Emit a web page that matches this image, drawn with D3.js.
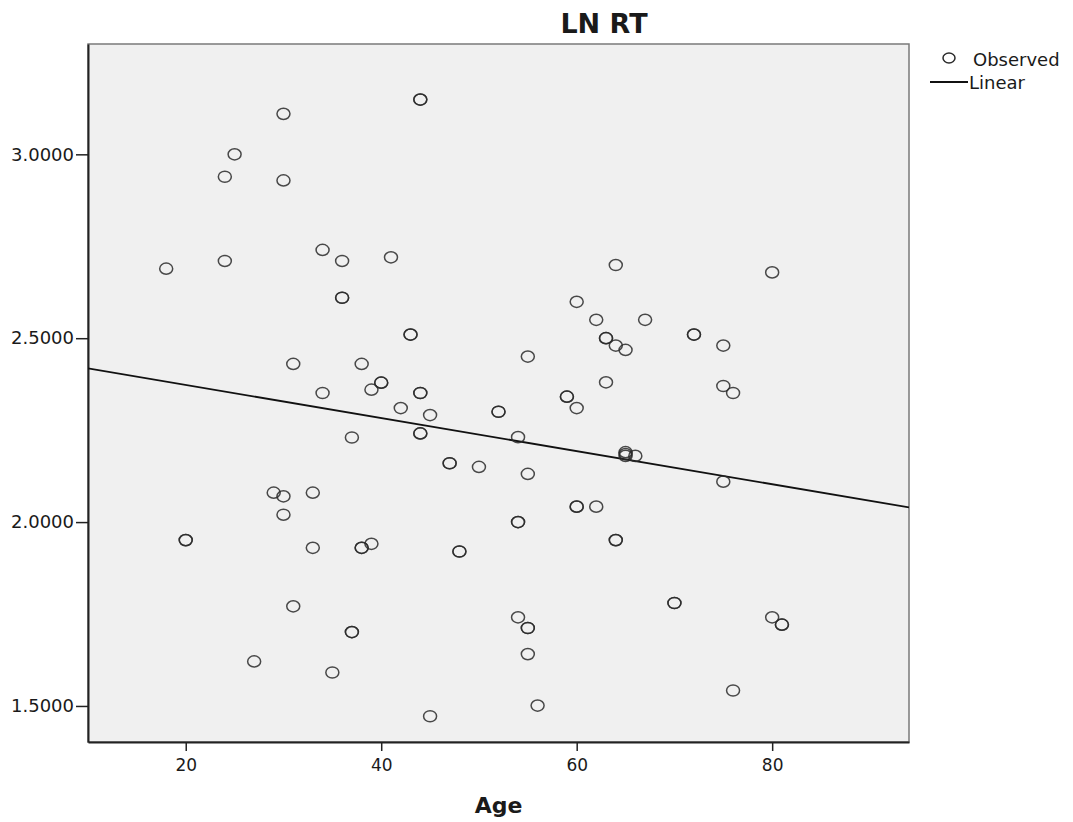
<!DOCTYPE html>
<html>
<head>
<meta charset="utf-8">
<script src="https://cdn.jsdelivr.net/npm/d3@7"></script>
<style>
  html, body { margin: 0; padding: 0; background: #ffffff; }
  svg { display: block; }
  text { font-family: "DejaVu Sans", Arial, sans-serif; fill: #1a1a1a; }
</style>
</head>
<body>
<svg id="chart" width="1073" height="822"></svg>
<script>
// ---- data ----
const title = "LN RT";
const xLabel = "Age";
const legendLabels = ["Observed", "Linear"];
const xTicks = [20, 40, 60, 80];
const yTicks = [1.5, 2.0, 2.5, 3.0];
const xDomain = [10, 94];
const yDomain = [1.402, 3.30];

// observed points (darker circles in the reference are repeated values)
const ages = [
  44, 44, 30, 25, 24, 30, 18, 24, 34, 36, 41, 36, 36, 43, 43, 31, 38,
  40, 40, 39, 34, 44, 44, 42, 45, 52, 52, 44, 44, 37, 47, 47, 50,
  29, 30, 33, 30, 20, 20, 33, 38, 38, 39, 48, 48, 31, 37, 37, 27, 35, 45,
  64, 80, 60, 62, 67, 63, 63, 64, 65, 72, 72, 75, 55, 63, 59, 59, 60,
  75, 76, 54, 65, 65, 65, 66, 55, 75, 60, 60, 62, 54, 54, 64, 64,
  70, 70, 54, 55, 55, 80, 81, 81, 55, 76, 56
];
const lnRT = [
  3.149, 3.149, 3.110, 3.000, 2.939, 2.929, 2.689, 2.710, 2.740, 2.710, 2.720, 2.610, 2.610, 2.510, 2.510, 2.430, 2.430,
  2.379, 2.379, 2.360, 2.351, 2.351, 2.351, 2.310, 2.291, 2.300, 2.300, 2.241, 2.241, 2.230, 2.160, 2.160, 2.150,
  2.080, 2.070, 2.080, 2.020, 1.951, 1.951, 1.930, 1.930, 1.930, 1.941, 1.920, 1.920, 1.771, 1.701, 1.701, 1.621, 1.591, 1.472,
  2.699, 2.679, 2.599, 2.550, 2.550, 2.500, 2.500, 2.480, 2.468, 2.510, 2.510, 2.480, 2.450, 2.380, 2.341, 2.341, 2.310,
  2.370, 2.351, 2.231, 2.190, 2.185, 2.180, 2.180, 2.131, 2.110, 2.042, 2.042, 2.042, 2.000, 2.000, 1.951, 1.951,
  1.780, 1.780, 1.741, 1.712, 1.712, 1.741, 1.721, 1.721, 1.641, 1.542, 1.501
];

// linear fit
const fitIntercept = 2.463;
const fitSlope = -0.0045;

// ---- layout ----
const W = 1073, H = 822;
const plot = { left: 88, right: 909, top: 44, bottom: 742 };

const svg = d3.select("#chart");

const x = d3.scaleLinear().domain(xDomain).range([plot.left, plot.right]);
const y = d3.scaleLinear().domain(yDomain).range([plot.bottom, plot.top]);

// plot background and frame
svg.append("rect")
  .attr("x", plot.left).attr("y", plot.top)
  .attr("width", plot.right - plot.left)
  .attr("height", plot.bottom - plot.top)
  .attr("fill", "#f0f0f0")
  .attr("stroke", "#7a7a7a")
  .attr("stroke-width", 1.5);

// clip for marks
svg.append("clipPath").attr("id", "clip")
  .append("rect")
  .attr("x", plot.left).attr("y", plot.top)
  .attr("width", plot.right - plot.left)
  .attr("height", plot.bottom - plot.top);

// axes
const yAxis = d3.axisLeft(y)
  .tickValues(yTicks)
  .tickFormat(d3.format(".4f"))
  .tickSizeInner(12)
  .tickSizeOuter(0)
  .tickPadding(2);

const xAxis = d3.axisBottom(x)
  .tickValues(xTicks)
  .tickFormat(d3.format("d"))
  .tickSizeInner(9)
  .tickSizeOuter(0)
  .tickPadding(8);

const gy = svg.append("g")
  .attr("transform", `translate(${plot.left},0)`)
  .call(yAxis);
gy.select(".domain").attr("stroke", "#222").attr("stroke-width", 2);
gy.selectAll(".tick line").attr("stroke", "#222").attr("stroke-width", 1.5);
gy.selectAll(".tick text")
  .attr("font-size", 18)
  .attr("font-family", "DejaVu Sans, Arial, sans-serif")
  .attr("fill", "#1a1a1a");

const gx = svg.append("g")
  .attr("transform", `translate(0,${plot.bottom})`)
  .call(xAxis);
gx.select(".domain").attr("stroke", "#222").attr("stroke-width", 2);
gx.selectAll(".tick line").attr("stroke", "#222").attr("stroke-width", 1.5);
gx.selectAll(".tick text")
  .attr("font-size", 17)
  .attr("font-family", "DejaVu Sans, Arial, sans-serif")
  .attr("fill", "#1a1a1a");

// regression line
const lineData = xDomain.map(a => ({ a, v: fitIntercept + fitSlope * a }));
svg.append("path")
  .datum(lineData)
  .attr("clip-path", "url(#clip)")
  .attr("fill", "none")
  .attr("stroke", "#111")
  .attr("stroke-width", 1.8)
  .attr("d", d3.line().x(d => x(d.a)).y(d => y(d.v)));

// observed points
const pts = ages.map((a, i) => ({ a, v: lnRT[i] }));
svg.append("g")
  .attr("clip-path", "url(#clip)")
  .selectAll("ellipse")
  .data(pts)
  .join("ellipse")
  .attr("cx", d => x(d.a))
  .attr("cy", d => y(d.v))
  .attr("rx", 6.5)
  .attr("ry", 5.6)
  .attr("fill", "none")
  .attr("stroke", "#2a2a2a")
  .attr("stroke-opacity", 0.85)
  .attr("stroke-width", 1.5);

// title
svg.append("text")
  .attr("x", 604).attr("y", 33)
  .attr("text-anchor", "middle")
  .attr("font-size", 27)
  .attr("font-weight", "bold")
  .text(title);

// x label
svg.append("text")
  .attr("x", (plot.left + plot.right) / 2).attr("y", 813)
  .attr("text-anchor", "middle")
  .attr("font-size", 22)
  .attr("font-weight", "bold")
  .text(xLabel);

// legend
const lg = svg.append("g");
lg.append("ellipse")
  .attr("cx", 949).attr("cy", 58)
  .attr("rx", 6).attr("ry", 5)
  .attr("fill", "none").attr("stroke", "#2a2a2a").attr("stroke-width", 1.5);
lg.append("text")
  .attr("x", 973).attr("y", 66)
  .attr("font-size", 18)
  .text(legendLabels[0]);
lg.append("line")
  .attr("x1", 930).attr("x2", 968)
  .attr("y1", 82).attr("y2", 82)
  .attr("stroke", "#111").attr("stroke-width", 1.8);
lg.append("text")
  .attr("x", 969).attr("y", 89)
  .attr("font-size", 18)
  .text(legendLabels[1]);
</script>
</body>
</html>
